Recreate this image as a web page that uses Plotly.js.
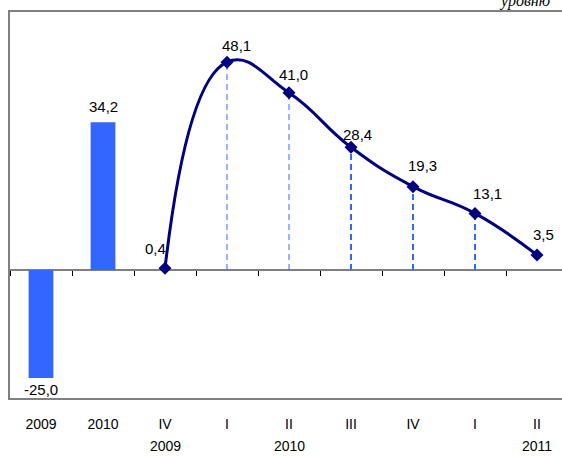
<!DOCTYPE html>
<html>
<head>
<meta charset="utf-8">
<script src="https://cdn.plot.ly/plotly-3.0.1.min.js"></script>
<style>html,body{margin:0;padding:0;background:#fff;}#chart{width:562px;height:456px;}</style>
</head>
<body>
<div id="chart"></div>
<script>
// ---- data ----
var tickLabels = ["2009", "2010", "IV", "I", "II", "III", "IV", "I", "II"];
var yearLabels = ["", "", "2009", "", "2010", "", "", "", "2011"];
var annualIdx = [0, 1];
var annualValues = [-25.0, 34.2];
var quarterIdx = [2, 3, 4, 5, 6, 7, 8];
var quarterValues = [0.4, 48.1, 41.0, 28.4, 19.3, 13.1, 3.5];
var dropLineIdx = [3, 4, 5, 6, 7];
var topNote = "уровню";

// ---- styling (label offsets in px, drop line widths) ----
var quarterLabelDx = [-10, 9, 4, 6, 9, 12, 6];
var quarterLabelDy = [20, 17, 18, 13, 21, 20, 20];
var annualLabelDy = [-11, 16];
var dropLineWidths = [1, 1, 2, 2, 2];

function fmt(v) { return v.toFixed(1).replace('.', ','); }

var yMin = -29.6, yMax = 59.7;
var catIdx = tickLabels.map(function (c, i) { return i; });
var boundaries = catIdx.map(function (i) { return i - 0.5; });

var font = "Liberation Sans, Arial, sans-serif";
var labelFont = { family: font, size: 15, color: "#000" };

var traces = [
  {
    type: "bar", x: annualIdx, y: annualValues,
    marker: { color: "#3366ff" }, width: 0.4,
    hoverinfo: "none", showlegend: false
  }
];

// drop lines, grouped by width
var groups = {};
dropLineIdx.forEach(function (i, k) {
  var w = dropLineWidths[k];
  if (!groups[w]) groups[w] = { x: [], y: [] };
  var v = quarterValues[quarterIdx.indexOf(i)];
  groups[w].x.push(i, i, null);
  groups[w].y.push(0, v, null);
});
Object.keys(groups).forEach(function (w) {
  traces.push({
    type: "scatter", mode: "lines", x: groups[w].x, y: groups[w].y, xaxis: "x2",
    line: { color: "#3366ff", width: +w, dash: "6px,4px" },
    hoverinfo: "none", showlegend: false
  });
});

traces.push({
  type: "scatter", mode: "lines+markers", x: quarterIdx, y: quarterValues, xaxis: "x2",
  line: { color: "#000080", width: 3, shape: "spline", smoothing: 1.3 },
  marker: { symbol: "diamond", size: 10, color: "#000080" },
  cliponaxis: false, hoverinfo: "none", showlegend: false
});

var annotations = [];
annualIdx.forEach(function (x, k) {
  annotations.push({
    x: x, y: annualValues[k], xref: "x", yref: "y", text: fmt(annualValues[k]),
    showarrow: false, xanchor: "center", yanchor: "middle",
    yshift: annualLabelDy[k], font: labelFont
  });
});
quarterIdx.forEach(function (x, k) {
  annotations.push({
    x: x, y: quarterValues[k], xref: "x", yref: "y", text: fmt(quarterValues[k]),
    showarrow: false, xanchor: "center", yanchor: "middle",
    xshift: quarterLabelDx[k], yshift: quarterLabelDy[k], font: labelFont
  });
});
yearLabels.forEach(function (t, i) {
  if (!t) return;
  annotations.push({
    x: i, y: -0.124, xref: "x", yref: "paper", text: t, showarrow: false,
    xanchor: "center", yanchor: "middle",
    font: { family: font, size: 14, color: "#000" }
  });
});
annotations.push({
  xref: "paper", yref: "paper", x: 0.882, y: 1.0, xanchor: "left", yanchor: "bottom",
  text: topNote, showarrow: false,
  font: { family: "Liberation Serif, Times New Roman, serif", size: 16, color: "#000", style: "italic" }
});

var xr = [-0.5, 8.403];
var layout = {
  width: 562, height: 456,
  margin: { l: 10, r: 0, t: 12, b: 58 },
  paper_bgcolor: "#fff", plot_bgcolor: "#fff",
  showlegend: false,
  xaxis: {
    range: xr, tickmode: "array", tickvals: catIdx, ticktext: tickLabels,
    ticks: "", showgrid: false, zeroline: false,
    showline: true, mirror: true, linecolor: "#808080", linewidth: 2,
    tickfont: { family: font, size: 14, color: "#000" },
    ticklabelstandoff: 12, fixedrange: true
  },
  xaxis2: {
    range: xr, overlaying: "x", anchor: "free", side: "bottom",
    position: (0 - yMin) / (yMax - yMin), layer: "below traces",
    showline: true, linecolor: "#808080", linewidth: 2,
    ticks: "outside", ticklen: 5, tickwidth: 1, tickcolor: "#000",
    tickmode: "array", tickvals: boundaries, showticklabels: false,
    showgrid: false, zeroline: false, fixedrange: true
  },
  yaxis: {
    range: [yMin, yMax], showticklabels: false, ticks: "",
    showgrid: false, zeroline: false,
    showline: true, linecolor: "#808080", linewidth: 2, fixedrange: true
  },
  annotations: annotations
};

Plotly.newPlot("chart", traces, layout, { displayModeBar: false, staticPlot: true });
</script>
</body>
</html>
